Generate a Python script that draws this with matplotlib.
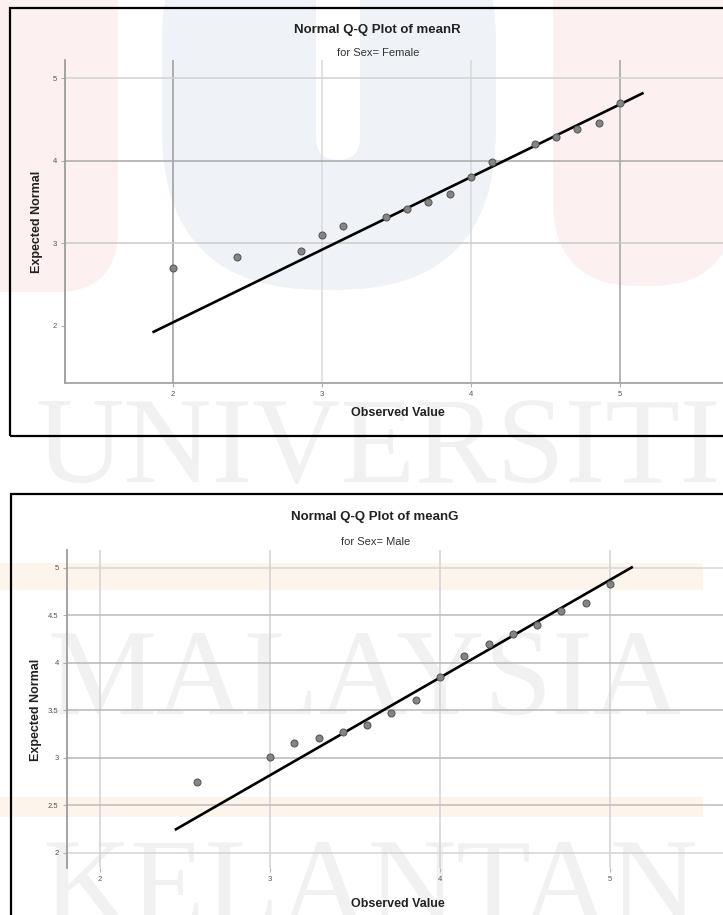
import numpy as np
import matplotlib
matplotlib.use("Agg")
import matplotlib.pyplot as plt
from matplotlib.patches import FancyBboxPatch, Rectangle

plt.rcParams['font.family'] = ['Liberation Sans', 'DejaVu Sans']

# --- data ---
female_obs = [2.000, 2.429, 2.857, 3.000, 3.143, 3.429, 3.571, 3.714,
              3.857, 4.000, 4.143, 4.429, 4.571, 4.714, 4.857, 5.000]
female_exp = [2.70, 2.84, 2.91, 3.10, 3.21, 3.32, 3.42, 3.50,
              3.60, 3.81, 3.99, 4.21, 4.29, 4.39, 4.46, 4.70]
female_line = dict(slope=0.881, intercept=0.282, x0=1.87, x1=5.15)

male_obs = [2.571, 3.000, 3.143, 3.286, 3.429, 3.571, 3.714, 3.857,
            4.000, 4.143, 4.286, 4.429, 4.571, 4.714, 4.857, 5.000]
male_exp = [2.75, 3.01, 3.16, 3.21, 3.27, 3.35, 3.47, 3.61,
            3.85, 4.07, 4.20, 4.31, 4.40, 4.55, 4.63, 4.83]
male_line = dict(slope=1.028, intercept=-0.266, x0=2.447, x1=5.128)

female_xticks = [2, 3, 4, 5]
female_yticks = [2, 3, 4, 5]
male_xticks = [2, 3, 4, 5]
male_yticks = [2.0, 2.5, 3.0, 3.5, 4.0, 4.5, 5.0]

W, H = 723, 915
fig = plt.figure(figsize=(W / 100, H / 100), dpi=100)
fig.patch.set_facecolor('white')


def fx(px):
    return px / W


def fy(py):
    return 1 - py / H


def inch(px, py):
    return px / 100, (H - py) / 100


# --- faint university watermark in the background ---
def wm_box(x0, y_top, x1, y_bot, r, color, z=-3):
    a = inch(x0, y_bot)
    b = inch(x1, y_top)
    p = FancyBboxPatch(a, b[0] - a[0], b[1] - a[1],
                       boxstyle="round,pad=0,rounding_size=%g" % r,
                       transform=fig.dpi_scale_trans, facecolor=color,
                       edgecolor='none', zorder=z)
    fig.add_artist(p)


wm_box(-80, -120, 118, 292, 0.62, '#fdf0f0')
wm_box(162, -120, 496, 290, 1.6, '#eff3f8')
wm_box(316, -120, 360, 160, 0.22, 'white', z=-2.9)
wm_box(553, -120, 735, 286, 0.85, '#fdf0f0')
for y_top, y_bot in [(563, 590), (797, 817)]:
    a = inch(0, y_bot)
    fig.add_artist(Rectangle(a, 7.03, (y_bot - y_top) / 100, transform=fig.dpi_scale_trans,
                             facecolor='#fdf4ec', edgecolor='none', zorder=-3))

for word, cx, cy in [('UNIVERSITI', 378, 452), ('MALAYSIA', 365, 684), ('KELANTAN', 370, 893)]:
    fig.text(fx(cx), fy(cy), word, ha='center', va='center', fontsize=88,
             family='Liberation Serif', color='#f1f1f1', zorder=-2)


def qq_panel(left, right, top, bottom, xlim, ylim, obs, exp, line, xticks, yticks,
             vgrid, hgrid, show_bottom):
    ax = fig.add_axes([fx(left), fy(bottom), fx(right) - fx(left), fy(top) - fy(bottom)])
    ax.set_facecolor('none')
    ax.set_xlim(*xlim)
    ax.set_ylim(*ylim)
    for v, c in zip(xticks, vgrid):
        if c:
            ax.axvline(v, color=c, lw=1.1, zorder=1)
    for v, c in zip(yticks, hgrid):
        if c:
            ax.axhline(v, color=c, lw=1.1, zorder=1)
    xs = np.array([line['x0'], line['x1']])
    ax.plot(xs, line['intercept'] + line['slope'] * xs, color='black', lw=1.9, zorder=3)
    ax.plot(obs, exp, 'o', ms=5, mfc='#858585', mec='#5a5a5a', mew=0.8, zorder=4)
    ax.set_xticks(xticks)
    ax.set_yticks(yticks)
    ax.set_xticklabels(['%g' % t for t in xticks])
    ax.set_yticklabels(['%g' % t for t in yticks])
    ax.tick_params(labelsize=5.5, labelcolor='#555555', color='#b0b0b0', length=3, width=0.8, pad=3)
    for s in ['top', 'right']:
        ax.spines[s].set_visible(False)
    ax.spines['left'].set_color('#9c9c9c')
    ax.spines['left'].set_linewidth(1.3)
    if show_bottom:
        ax.spines['bottom'].set_color('#a4a4a4')
        ax.spines['bottom'].set_linewidth(1.3)
    else:
        ax.spines['bottom'].set_visible(False)
    return ax


# top panel: female
qq_panel(65, W, 60, 383, (1.275, 5.691), (1.309, 5.224), female_obs, female_exp, female_line,
         female_xticks, female_yticks,
         vgrid=['#9a9a9a', '#dadada', '#dadada', '#a2a2a2'],
         hgrid=[None, '#cacaca', '#a8a8a8', '#d2d2d2'], show_bottom=True)

# bottom panel: male
qq_panel(67, W, 550, 868, (1.806, 5.665), (1.842, 5.189), male_obs, male_exp, male_line,
         male_xticks, male_yticks,
         vgrid=['#d2d2d2'] * 4,
         hgrid=['#d4d4d4', '#bcbcbc', '#b8b8b8', '#b8b8b8', '#b8b8b8', '#bcbcbc', '#d6d6d6'],
         show_bottom=False)

# titles and axis labels
fig.text(fx(377), fy(30), 'Normal Q-Q Plot of meanR', ha='center', va='center',
         fontsize=9.5, fontweight='bold', color='#222222')
fig.text(fx(378), fy(53), 'for Sex= Female', ha='center', va='center', fontsize=8, color='#333333')
fig.text(fx(37), fy(222), 'Expected Normal', ha='center', va='center', rotation=90,
         fontsize=9, fontweight='bold', color='#222222')
fig.text(fx(398), fy(413), 'Observed Value', ha='center', va='center',
         fontsize=9, fontweight='bold', color='#222222')

fig.text(fx(375), fy(517), 'Normal Q-Q Plot of meanG', ha='center', va='center',
         fontsize=9.5, fontweight='bold', color='#222222')
fig.text(fx(376), fy(542), 'for Sex= Male', ha='center', va='center', fontsize=8, color='#333333')
fig.text(fx(36), fy(710), 'Expected Normal', ha='center', va='center', rotation=90,
         fontsize=9, fontweight='bold', color='#222222')
fig.text(fx(398), fy(904), 'Observed Value', ha='center', va='center',
         fontsize=9, fontweight='bold', color='#222222')

# black frames round each chart (right / bottom edges run off the page)
for x0, y_top, y_bot in [(10, 8, 436), (11, 494, 940)]:
    a = inch(x0, y_bot)
    fig.add_artist(Rectangle(a, (W + 20 - x0) / 100, (y_bot - y_top) / 100,
                             transform=fig.dpi_scale_trans, facecolor='none',
                             edgecolor='black', lw=1.6, zorder=10))

fig.savefig('out.png', dpi=100)
